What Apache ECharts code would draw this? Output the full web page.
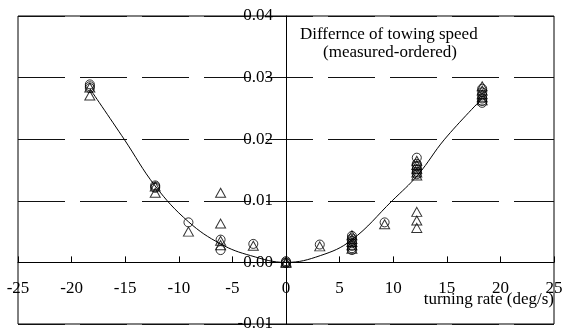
<!DOCTYPE html>
<html>
<head>
<meta charset="utf-8">
<script src="https://cdn.jsdelivr.net/npm/echarts@6/dist/echarts.min.js"></script>
<style>html,body{margin:0;padding:0;background:#fff}#c{width:562px;height:329px}</style>
</head>
<body>
<div id="c"></div>
<script>
var xTicks = [-25, 25, 5];
var yTicks = [-0.01, 0.04, 0.01];
var titleLine1 = 'Differnce of towing speed';
var titleLine2 = '(measured-ordered)';
var xName = 'turning rate (deg/s)';

var circles = [
  [-18.3,0.0289],[-18.3,0.0286],[-18.3,0.0283],
  [-12.2,0.0125],[-12.2,0.0123],[-12.2,0.0121],
  [-9.1,0.0065],
  [-6.1,0.0037],[-6.1,0.0020],
  [-3.05,0.0030],
  [0,0.0002],[0,0],[0,-0.0001],
  [3.15,0.0029],
  [6.15,0.0043],[6.15,0.0039],[6.15,0.0035],[6.15,0.0031],[6.15,0.0027],[6.15,0.0023],[6.15,0.0020],
  [9.2,0.0065],
  [12.2,0.0170],[12.2,0.0160],[12.2,0.0156],[12.2,0.0151],[12.2,0.0147],[12.2,0.0143],
  [18.3,0.0282],[18.3,0.0276],[18.3,0.0271],[18.3,0.0266],[18.3,0.0262],[18.3,0.0259]
];
var triangles = [
  [-18.3,0.0284],[-18.3,0.0271],
  [-12.2,0.0123],[-12.2,0.0113],
  [-9.1,0.0050],
  [-6.1,0.0113],[-6.1,0.0063],[-6.1,0.0035],[-6.1,0.0028],
  [-3.05,0.0027],
  [0,0.0001],[0,-0.0001],
  [3.15,0.0026],
  [6.15,0.0044],[6.15,0.0038],[6.15,0.0033],[6.15,0.0028],[6.15,0.0022],
  [9.2,0.0062],
  [12.2,0.0165],[12.2,0.0158],[12.2,0.0152],[12.2,0.0146],[12.2,0.0141],
  [12.2,0.0082],[12.2,0.0068],[12.2,0.0056],
  [18.3,0.0286],[18.3,0.0279],[18.3,0.0273],[18.3,0.0268],[18.3,0.0263]
];
var fitCurve = [
  [-18.3,0.0282],[-15.1,0.0200],[-12.2,0.0124],[-9.1,0.0066],[-6.1,0.0030],
  [-3.3,0.0011],[0,0],[3.2,0.0011],[6.1,0.0036],[9.9,0.0100],
  [12.3,0.0142],[14.8,0.0200],[18.3,0.0266]
];

var FONT = '"Liberation Serif","Times New Roman",serif';
var chart = echarts.init(document.getElementById('c'), null, {renderer:'canvas'});
var GRID = {left: 18, right: 8, top: 16, bottom: 5, show: true, borderColor: '#000', borderWidth: 1,
  backgroundColor: 'transparent', containLabel: false, outerBoundsMode: 'none'};
chart.setOption({
  animation: false,
  backgroundColor: '#fff',
  grid: GRID,
  xAxis: {
    type: 'value', min: xTicks[0], max: xTicks[1], interval: xTicks[2], position: 'bottom',
    axisLine: {onZero: false, lineStyle: {color: '#000', width: 1}},
    axisTick: {show: true, inside: true, length: 6, lineStyle: {color: '#000'}},
    axisLabel: {color: '#000', fontFamily: FONT, fontSize: 17, margin: 18, showMinLabel: true, showMaxLabel: true, hideOverlap: false},
    splitLine: {show: false}
  },
  yAxis: {
    type: 'value', min: yTicks[0], max: yTicks[1], interval: yTicks[2], position: 'left',
    axisLine: {onZero: false, lineStyle: {color: '#000', width: 1}},
    axisTick: {show: false},
    axisLabel: {color: '#000', fontFamily: FONT, fontSize: 17, margin: 13, showMinLabel: true, showMaxLabel: true,
      formatter: function(v){ return v.toFixed(2); }},
    splitLine: {show: true, lineStyle: {color: '#111', width: 1, type: [47, 15]}}
  },
  graphic: [
    {type: 'text', left: 300, top: 26, style: {text: titleLine1, font: '17px ' + FONT, fill: '#000'}},
    {type: 'text', left: 323, top: 44, style: {text: titleLine2, font: '17px ' + FONT, fill: '#000'}},
    {type: 'text', right: 8, top: 291, style: {text: xName, font: '17px ' + FONT, fill: '#000'}}
  ],
  series: [
    {type: 'line', data: fitCurve, smooth: 0.4, showSymbol: false, symbol: 'none',
     lineStyle: {color: '#000', width: 1}, z: 2},
    {type: 'scatter', data: circles, symbol: 'circle', symbolSize: 9,
     itemStyle: {color: 'rgba(255,255,255,0)', borderColor: '#000', borderWidth: 1}, z: 3},
    {type: 'scatter', data: triangles, symbol: 'triangle', symbolSize: [10, 9],
     itemStyle: {color: 'rgba(255,255,255,0)', borderColor: '#000', borderWidth: 1}, z: 3}
  ]
});
// move both axes (line, ticks, labels) onto the zero lines, using the library's scales
var p0 = chart.convertToPixel({gridIndex: 0}, [0, 0]);
var pMin = chart.convertToPixel({gridIndex: 0}, [xTicks[0], yTicks[0]]);
chart.setOption({
  xAxis: {offset: -(pMin[1] - p0[1])},
  yAxis: {offset: -(p0[0] - pMin[0])}
});
</script>
</body>
</html>
